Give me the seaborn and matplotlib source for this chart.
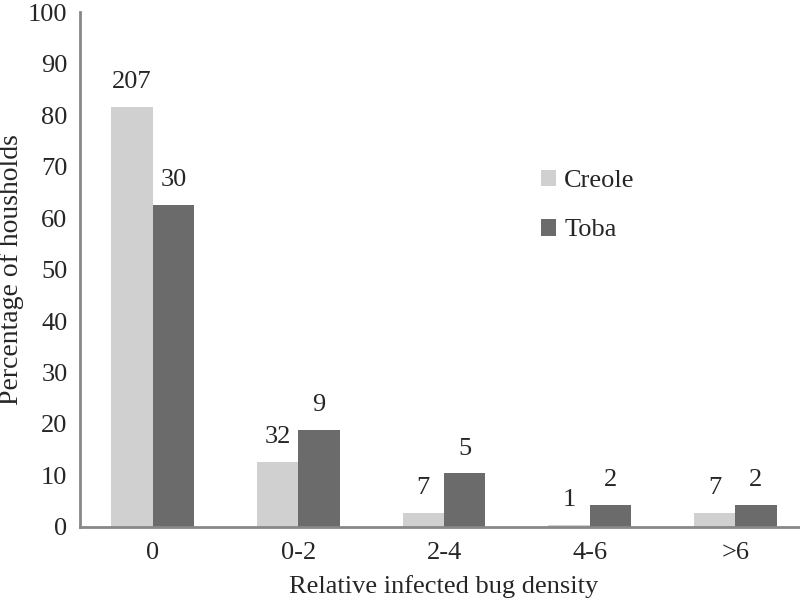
import pandas as pd
import matplotlib.pyplot as plt
import seaborn as sns

# density classes and group values
categories = ["0", "0-2", "2-4", "4-6", ">6"]
creole_pct = [81.5, 12.6, 2.8, 0.4, 2.8]
toba_pct = [62.5, 18.8, 10.4, 4.2, 4.2]
creole_n = [207, 32, 7, 1, 7]
toba_n = [30, 9, 5, 2, 2]
groups = ["Creole", "Toba"]
colors = ["#d0d0d0", "#6b6b6b"]

df = pd.DataFrame({
    "density": categories * 2,
    "pct": creole_pct + toba_pct,
    "n": creole_n + toba_n,
    "group": [groups[0]] * len(categories) + [groups[1]] * len(categories),
})

sns.set_style("white")
plt.rcParams["font.family"] = ["Liberation Serif", "DejaVu Serif"]

fig = plt.figure(figsize=(8, 6.05), dpi=100)
ax = fig.add_axes([0.1, 0.129, 0.91, 0.851])

sns.barplot(data=df, x="density", y="pct", hue="group", order=categories,
            hue_order=groups, palette=colors, width=0.57, saturation=1,
            linewidth=0, ax=ax)

# counts above bars
for container, counts in zip(ax.containers, [creole_n, toba_n]):
    ax.bar_label(container, labels=[str(c) for c in counts], padding=10,
                 fontsize=19)

ax.set_ylim(0, 100)
ax.set_yticks(range(0, 101, 10))
ax.tick_params(axis="both", length=0, labelsize=19)
ax.tick_params(axis="y", pad=9)
ax.tick_params(axis="x", pad=11)
ax.set_xlabel("Relative infected bug density", fontsize=19, labelpad=8)
ax.set_ylabel("Percentage of housholds", fontsize=20, labelpad=3)

for side in ["top", "right"]:
    ax.spines[side].set_visible(False)
for side in ["left", "bottom"]:
    ax.spines[side].set_color("#888888")
    ax.spines[side].set_linewidth(2)

ax.legend(title=None, frameon=False, fontsize=19, loc="upper left",
          bbox_to_anchor=(0.6, 0.74), handlelength=0.6, handleheight=0.6,
          handletextpad=0.3, labelspacing=1.0)

fig.savefig("out.png", dpi=100)
